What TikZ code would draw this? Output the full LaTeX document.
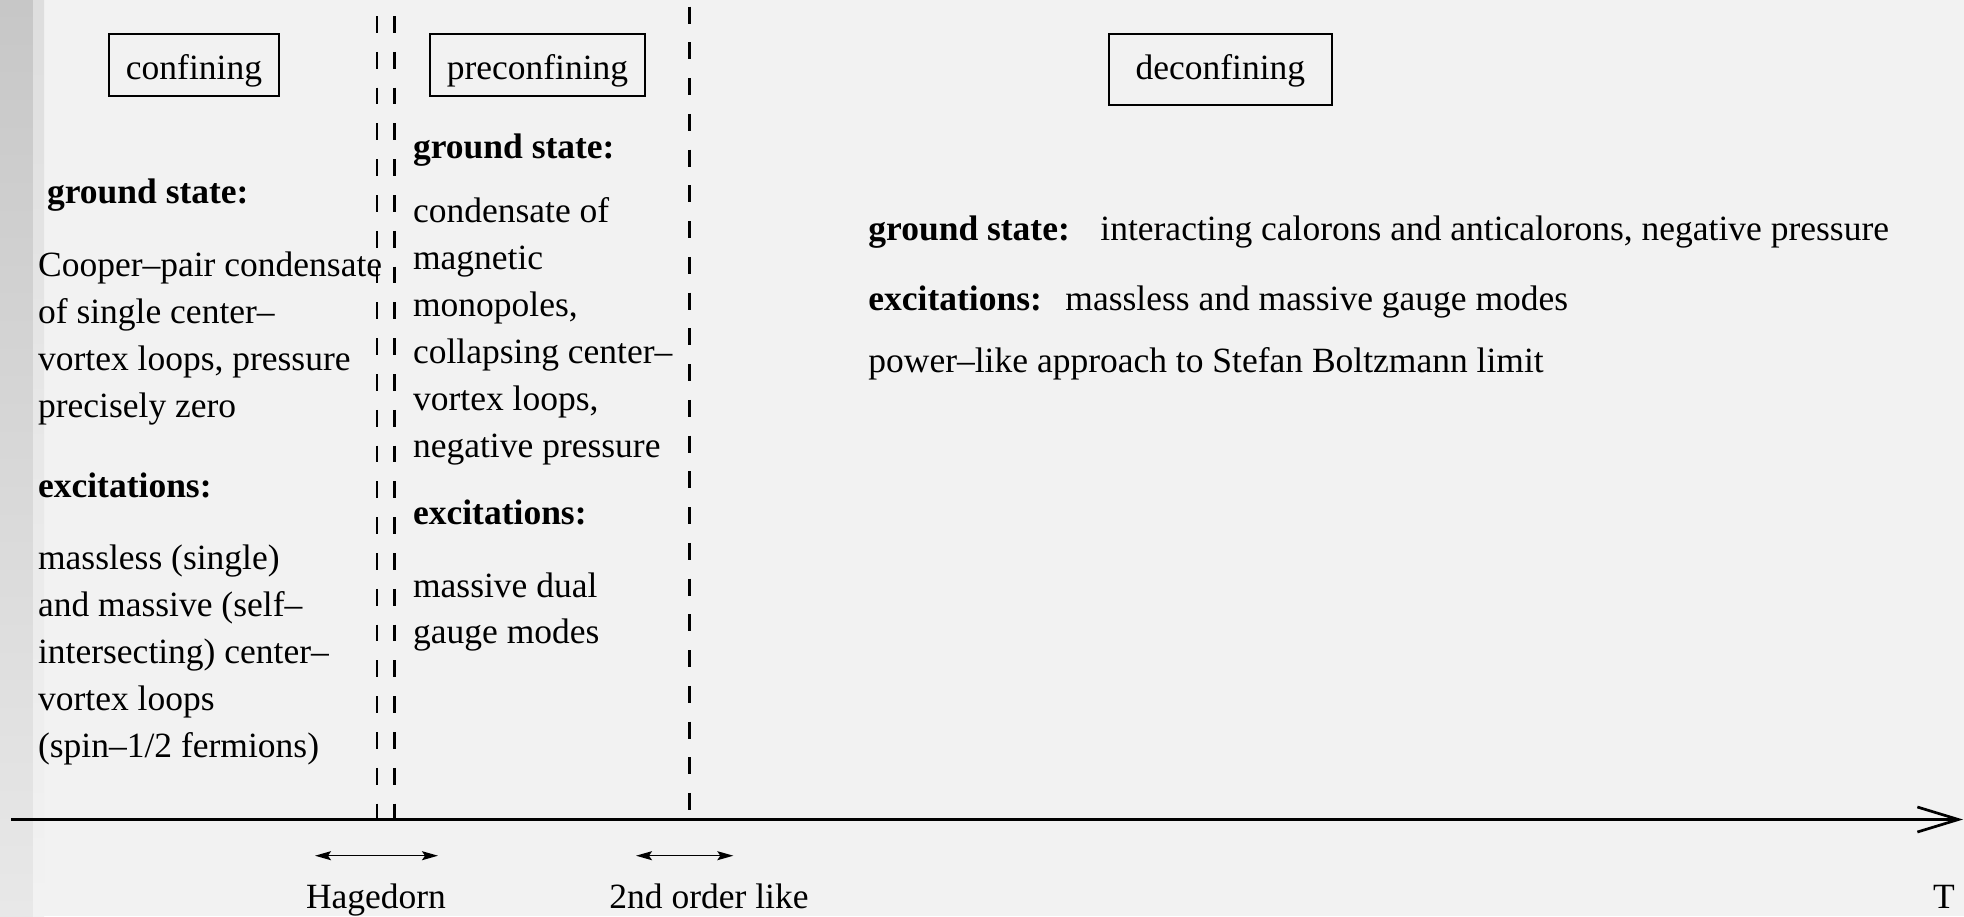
\documentclass[tikz,border=0pt]{standalone}
\usepackage{fontspec}
\setmainfont{Liberation Serif}
\usetikzlibrary{arrows.meta}
\definecolor{bg}{HTML}{F2F2F2}
\begin{document}
\begin{tikzpicture}[x=0.5pt,y=-0.5pt,
  txt/.style={anchor=base west, inner sep=0pt, font=\fontsize{17.75pt}{23.5pt}\selectfont},
  para/.style={txt, align=flush left, text width=220pt},
  hd/.style={txt, font=\fontsize{17.75pt}{23.5pt}\selectfont\bfseries},
  phasebox/.style={draw, line width=1pt, anchor=base, inner sep=0pt, align=center,
    font=\fontsize{17.75pt}{23.5pt}\selectfont, text height=22.5pt, text depth=8.5pt},
  dashline/.style={line width=1.4pt},
  axisline/.style={line width=1.35pt, line join=miter, -{Straight Barb[length=20.5pt, width=12.5pt]}},
  rangearrow/.style={line width=0.7pt, {Stealth[length=8pt, width=4.5pt, inset=1.5pt]}-{Stealth[length=8pt, width=4.5pt, inset=1.5pt]}},
  lbl/.style={anchor=base, inner sep=0pt, font=\fontsize{17.75pt}{23.5pt}\selectfont}]
\useasboundingbox (0,0) rectangle (1964,916);
\fill[bg] (0,0) rectangle (1964,916);
\shade[top color=black!22, bottom color=black!9] (0,0) rectangle (33,916);
\shade[top color=black!13, bottom color=black!5] (33,0) rectangle (44,916);

% phase boxes
\node[phasebox, minimum width=85pt] (conf) at (194,79) {confining};
\node[phasebox, minimum width=107.5pt] (preconf) at (537.5,79) {preconfining};
\node[phasebox, minimum width=111.35pt, text depth=12.7pt] (deconf) at (1220.3,79.3) {deconfining};

% transition lines
\coordinate (h1top) at (377,16);
\coordinate (h1bot) at (377,820.3);
\coordinate (h2top) at (394.5,16);
\coordinate (h2bot) at (394.5,820.3);
\coordinate (s2top) at (689.3,6.7);
\coordinate (s2bot) at (689.3,810);
\draw[dashline, dash pattern=on 8.35pt off 9.55pt] (h1top) -- (h1bot);
\draw[dashline, dash pattern=on 8.35pt off 9.55pt] (h2top) -- (h2bot);
\draw[dashline, dash pattern=on 8.5pt off 9.37pt] (s2top) -- (s2bot);

% left column
\node[hd] (lgs) at (46.7,203) {ground state:};
\node[para] (lgstxt) at (37.7,276) {Cooper–pair condensate\\of single center–\\vortex loops, pressure\\precisely zero};
\node[hd] (lex) at (37.7,497) {excitations:};
\node[para] (lextxt) at (37.7,569) {massless (single)\\and massive (self–\\intersecting) center–\\vortex loops\\(spin–1/2 fermions)};

% middle column
\node[hd] (mgs) at (412.7,158) {ground state:};
\node[para] (mgstxt) at (412.7,222) {condensate of\\magnetic\\monopoles,\\collapsing center–\\vortex loops,\\negative pressure};
\node[hd] (mex) at (412.7,524) {excitations:};
\node[para, font=\fontsize{17.75pt}{23pt}\selectfont] (mextxt) at (412.7,597) {massive dual\\gauge modes};

% right column
\node[hd] (rgs) at (868,240) {ground state:};
\node[txt] (rgstxt) at (1100,240) {interacting calorons and anticalorons, negative pressure};
\node[hd] (rex) at (868,310) {excitations:};
\node[txt] (rextxt) at (1065,310) {massless and massive gauge modes};
\node[txt] (rpow) at (868,372) {power–like approach to Stefan Boltzmann limit};

% axis
\coordinate (axstart) at (11,819.5);
\coordinate (axend) at (1963,819.5);
\draw[axisline] (axstart) -- (axend);
\node[lbl] (T) at (1944,908) {T};

% transition ranges
\coordinate (hagL) at (315,855.7);
\coordinate (hagR) at (438,855.7);
\coordinate (sndL) at (636,855.7);
\coordinate (sndR) at (733.3,855.7);
\draw[rangearrow] (hagL) -- (hagR);
\draw[rangearrow] (sndL) -- (sndR);
\node[lbl] (hag) at (376,908) {Hagedorn};
\node[lbl] (snd) at (709,908) {2nd order like};
\end{tikzpicture}
\end{document}
